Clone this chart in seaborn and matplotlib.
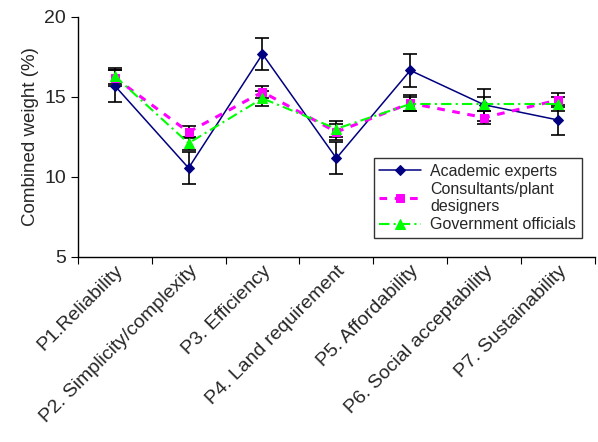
import matplotlib.pyplot as plt
import pandas as pd
import seaborn as sns

# criteria and group scores
criteria = ['P1.Reliability', 'P2. Simplicity/complexity', 'P3. Efficiency',
            'P4. Land requirement', 'P5. Affordability', 'P6. Social acceptability',
            'P7. Sustainability']
academic = [15.7, 10.55, 17.67, 11.16, 16.65, 14.5, 13.55]
academic_err = [1.0, 1.0, 1.0, 1.0, 1.05, 1.0, 0.95]
consultants = [16.2, 12.8, 15.3, 12.8, 14.6, 13.7, 14.8]
consultants_err = [0.5, 0.4, 0.4, 0.5, 0.5, 0.4, 0.45]
government = [16.3, 12.1, 14.9, 13.0, 14.55, 14.55, 14.55]
government_err = [0.5, 0.4, 0.45, 0.5, 0.45, 0.45, 0.45]

def main():
    sns.set_style('ticks')
    plt.rcParams['font.family'] = ['Liberation Sans', 'DejaVu Sans']

    pos = list(range(len(criteria)))
    df = pd.DataFrame({'pos': pos, 'Academic experts': academic,
                       'Consultants/plant\ndesigners': consultants,
                       'Government officials': government})

    fig = plt.figure(figsize=(5.98, 4.42), dpi=100)
    ax = fig.add_axes([0.130, 0.419, 0.865, 0.543])

    # error bars first so the markers sit on top
    for vals, errs in [(academic, academic_err), (consultants, consultants_err),
                       (government, government_err)]:
        ax.errorbar(pos, vals, yerr=errs, fmt='none', ecolor='black',
                    elinewidth=1.2, capsize=5, capthick=1.2, zorder=2)

    sns.lineplot(data=df, x='pos', y='Academic experts', ax=ax, color='#000080',
                 linewidth=1.1, marker='D', markersize=5, markeredgecolor='#000080',
                 label='Academic experts', zorder=3)
    sns.lineplot(data=df, x='pos', y='Consultants/plant\ndesigners', ax=ax,
                 color='#ff00ff', linewidth=2.2, marker='s', markersize=6,
                 markeredgecolor='#ff00ff', dashes=(2.5, 2.5),
                 label='Consultants/plant\ndesigners', zorder=4)
    sns.lineplot(data=df, x='pos', y='Government officials', ax=ax, color='#00ff00',
                 linewidth=1.5, marker='^', markersize=7, markeredgecolor='#00ff00',
                 dashes=(5, 2, 1, 2), label='Government officials', zorder=5)

    ax.set_xlim(-0.5, len(criteria) - 0.5)
    ax.set_ylim(5, 20)
    ax.set_yticks([5, 10, 15, 20])
    ax.set_xticks([p - 0.5 for p in pos] + [len(criteria) - 0.5])
    ax.set_xticklabels([])
    ax.set_xticks(pos, minor=True)
    ax.set_xticklabels(criteria, minor=True, rotation=45, ha='right',
                       rotation_mode='anchor', fontsize=14)
    ax.tick_params(axis='x', which='minor', length=0, pad=4)
    ax.tick_params(axis='x', which='major', length=5, direction='out', color='black')
    ax.tick_params(axis='y', length=5, direction='out', labelsize=14, color='black')
    for lab in ax.get_xticklabels(minor=True):
        x, y = lab.get_position()
        lab.set_x(x + 0.25)

    ax.set_xlabel('')
    ax.set_ylabel('Combined weight (%)', fontsize=13.5)

    sns.despine(ax=ax)
    for s in ['left', 'bottom']:
        ax.spines[s].set_color('black')
        ax.spines[s].set_linewidth(1.0)

    leg = ax.legend(loc='lower right', bbox_to_anchor=(0.99, 0.045), fontsize=11.5,
                    frameon=True, fancybox=False, edgecolor='black',
                    handlelength=2.6, handletextpad=0.6, labelspacing=0.2,
                    borderpad=0.35)
    leg.get_frame().set_linewidth(1.0)

    fig.savefig('out.png', dpi=100)
    plt.close(fig)


if __name__ == '__main__':
    main()
